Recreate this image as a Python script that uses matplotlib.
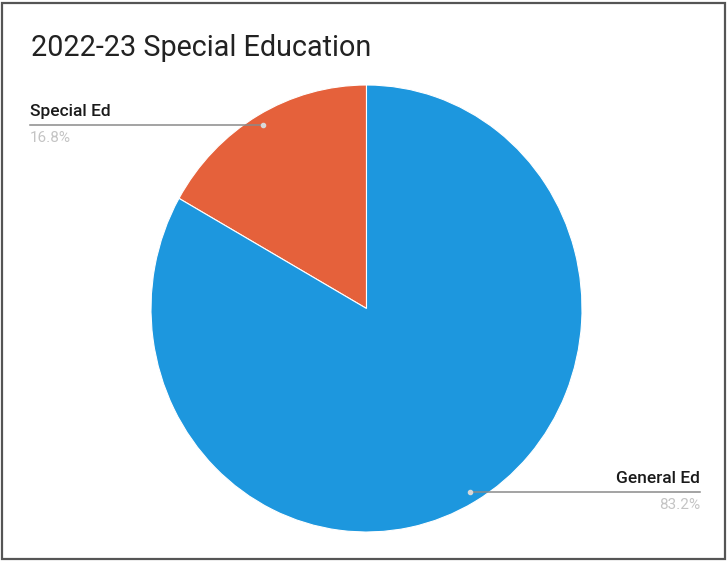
import matplotlib
matplotlib.use("Agg")
import matplotlib.pyplot as plt
import numpy as np
from matplotlib.patches import Rectangle

title = "2022-23 Special Education"
categories = ["Special Ed", "General Ed"]
values = [16.8, 83.2]
colors = ["#E5613B", "#1D97DE"]

W, H = 728, 561
fig = plt.figure(figsize=(W / 100, H / 100), dpi=100)
fig.patch.set_facecolor("white")

cx, cy, rx, ry = 366.5, 308.5, 215.5, 223.5
ax = fig.add_axes([(cx - rx) / W, (H - cy - ry) / H, 2 * rx / W, 2 * ry / H])
wedges, _ = ax.pie(values, colors=colors, startangle=90, counterclock=True,
                   wedgeprops=dict(linewidth=0.8, edgecolor="white"))
ax.set_aspect("auto")
ax.set_xlim(-1, 1)
ax.set_ylim(-1, 1)
ax.axis("off")

fig.text(31 / W, 1 - 48 / H, title, fontsize=20.7, family="Roboto",
         color="#222222", va="center", ha="left")

# label leader lines
cum = np.cumsum([0] + values)
label_x_px = [30, 700]
for i, (cat, val) in enumerate(zip(categories, values)):
    mid = np.deg2rad(90 + 360 * (cum[i] + val / 2) / 100)
    px, py = 0.95 * np.cos(mid), 0.95 * np.sin(mid)
    end_x = (label_x_px[i] - cx) / rx
    ax.plot([px, end_x], [py, py], color="#8a8a8a", lw=1.1, clip_on=False)
    ax.plot([px], [py], "o", ms=3, color="#d8d8d8", clip_on=False)
    ha = "left" if end_x < 0 else "right"
    ax.text(end_x, py + 0.025, cat, ha=ha, va="bottom", fontsize=12.5,
            family="Roboto", fontweight="medium", color="#1a1a1a", clip_on=False)
    ax.text(end_x, py - 0.025, f"{val}%", ha=ha, va="top", fontsize=11,
            family="Roboto", color="#c4c4c4", clip_on=False)

fig.patches.append(Rectangle((2 / W, 2 / H), 1 - 5 / W, 1 - 5 / H,
                             transform=fig.transFigure, fill=False,
                             edgecolor="#555555", lw=1.6))

fig.savefig("out.png", dpi=100)
